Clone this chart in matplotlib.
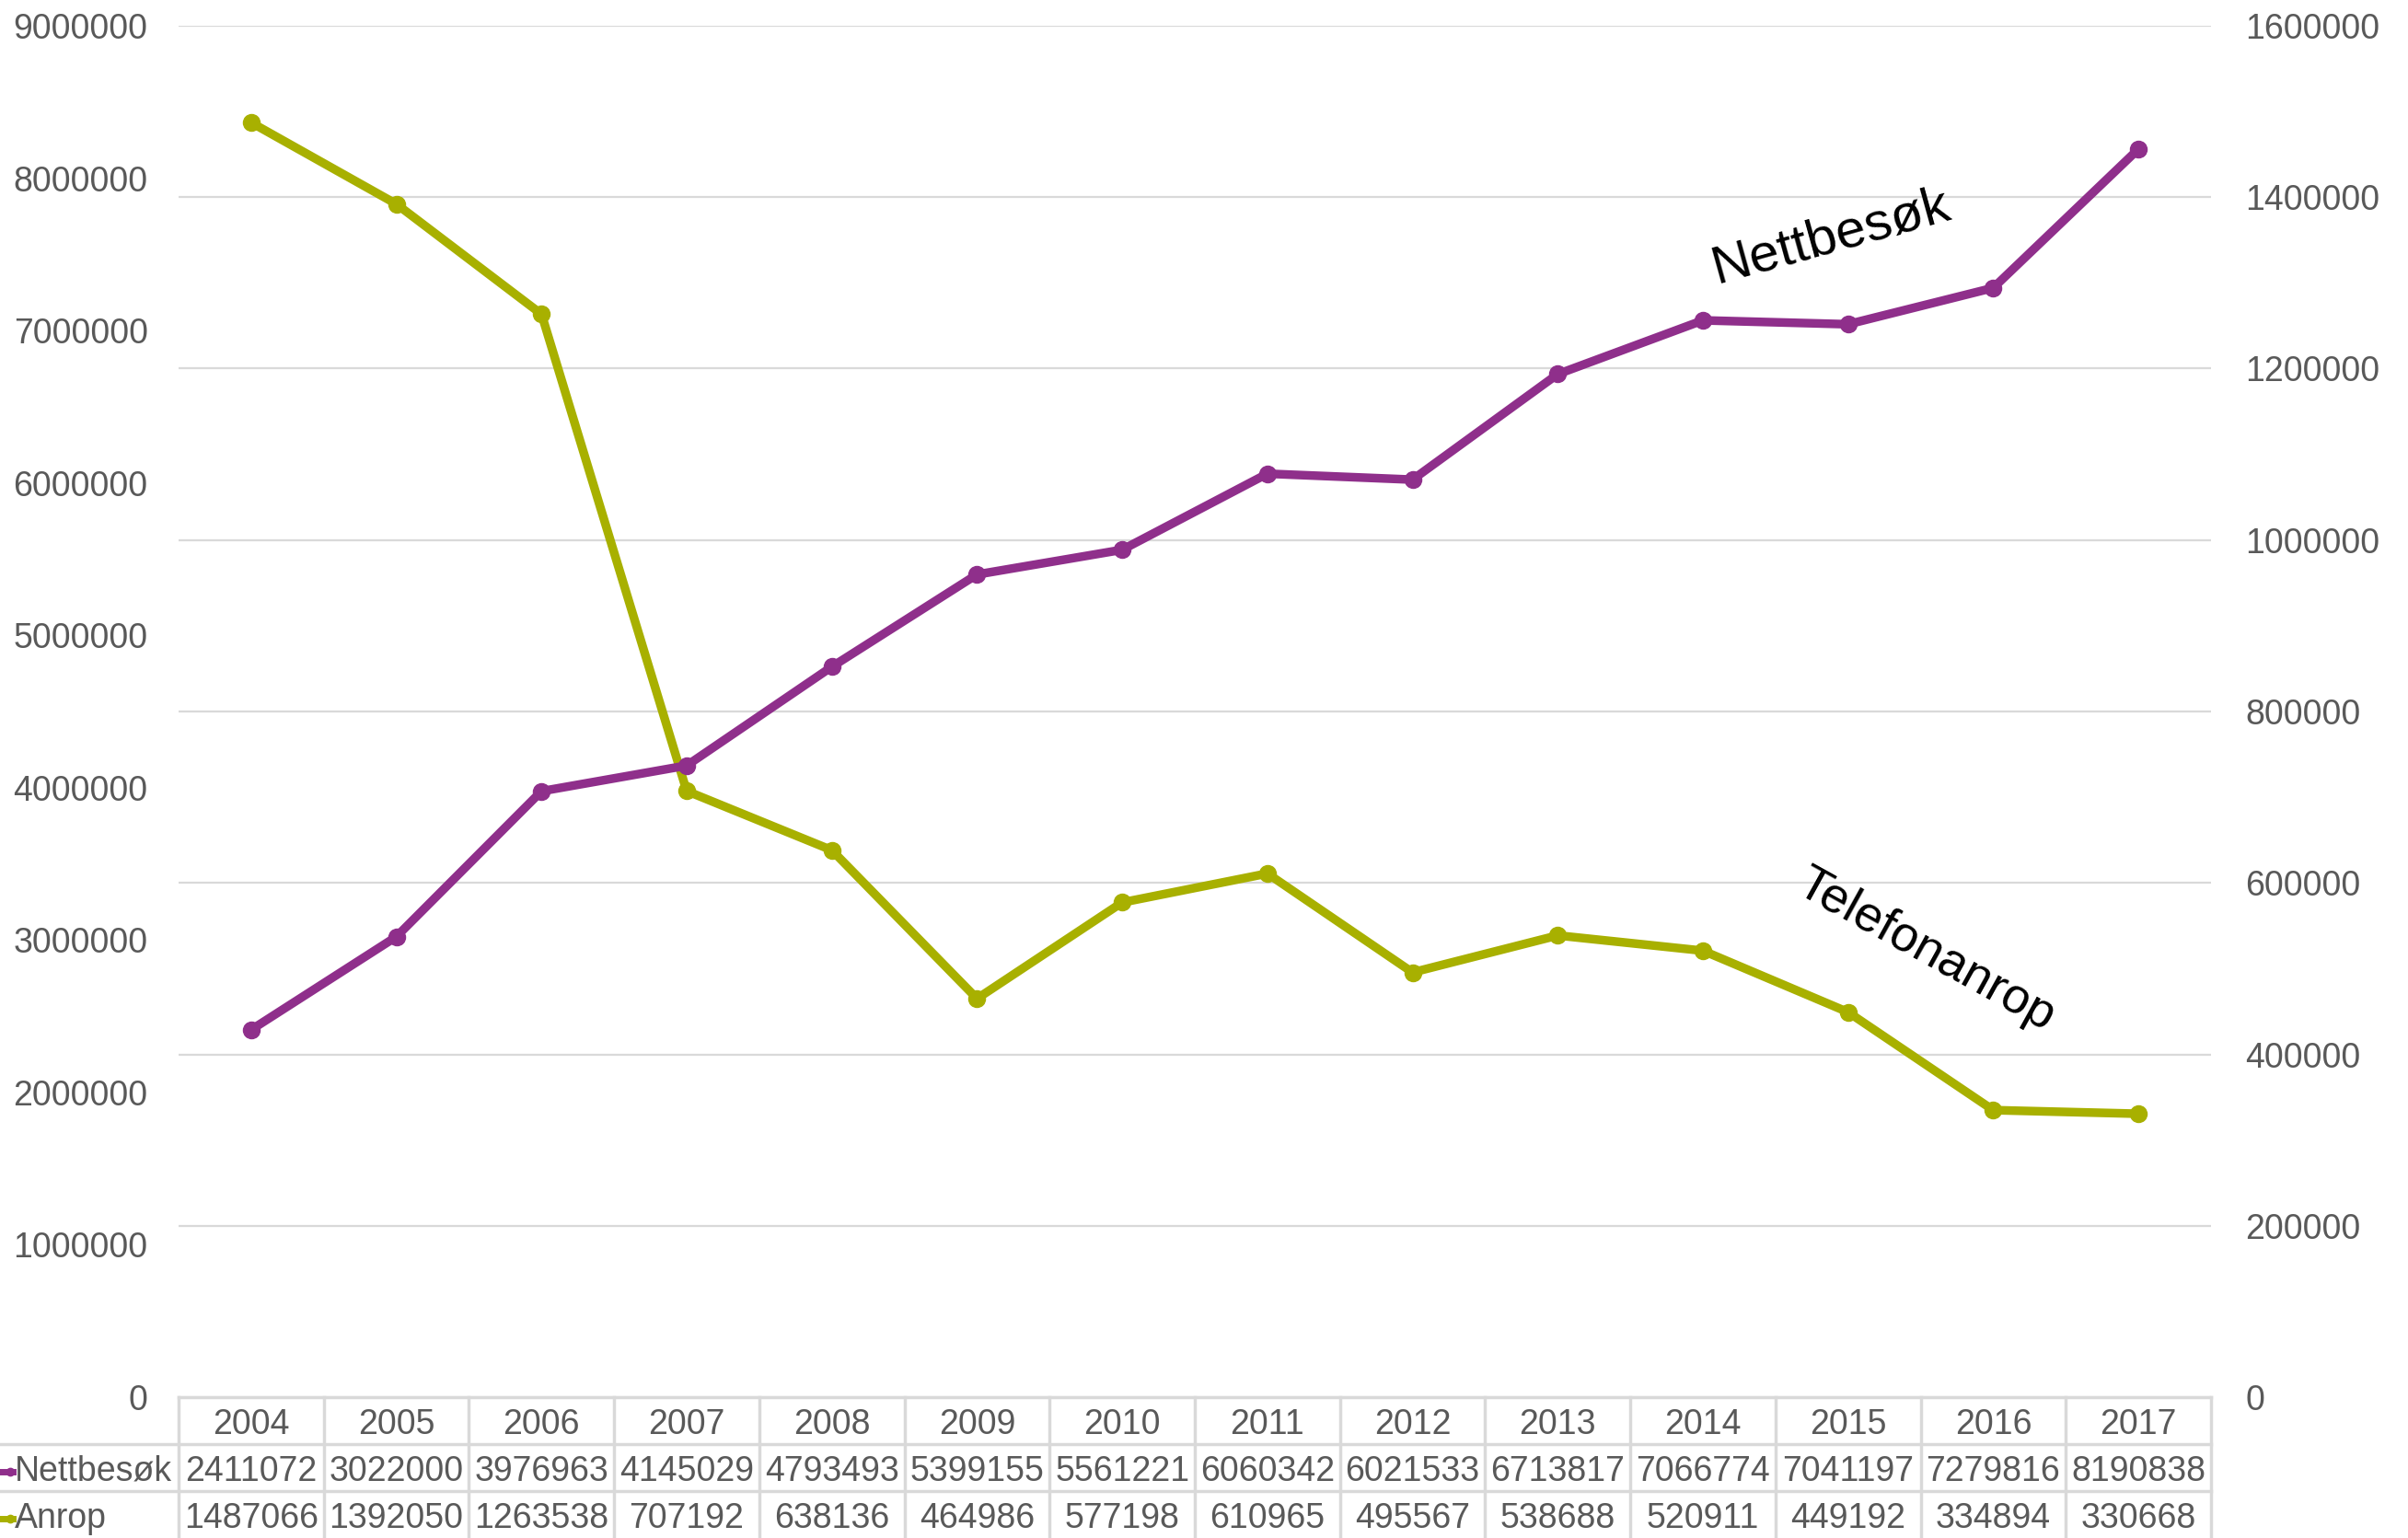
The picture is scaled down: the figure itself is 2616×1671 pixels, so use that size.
import numpy as np
import matplotlib
matplotlib.use("Agg")
import matplotlib.pyplot as plt

plt.rcParams['font.family'] = ['Liberation Sans', 'DejaVu Sans']

years = ['2004', '2005', '2006', '2007', '2008', '2009', '2010',
         '2011', '2012', '2013', '2014', '2015', '2016', '2017']
nettbesok = [2411072, 3022000, 3976963, 4145029, 4793493, 5399155, 5561221,
             6060342, 6021533, 6713817, 7066774, 7041197, 7279816, 8190838]
anrop = [1487066, 1392050, 1263538, 707192, 638136, 464986, 577198,
         610965, 495567, 538688, 520911, 449192, 334894, 330668]

left_ticks = list(range(0, 9000001, 1000000))
right_ticks = list(range(0, 1600001, 200000))

purple = '#8F2F8B'
olive = '#A8B000'
grey_txt = '#595959'
grid_col = '#D9D9D9'

W, H = 2616, 1671
fig = plt.figure(figsize=(W / 100, H / 100), dpi=100)

x0, x1 = 194 / W, 2402 / W
y_bot, y_top = (H - 1518) / H, (H - 28) / H
ax = fig.add_axes([x0, y_bot, x1 - x0, y_top - y_bot])
ax2 = ax.twinx()
ax.set_zorder(ax2.get_zorder() + 1)
ax.patch.set_visible(False)

x = np.arange(len(years))

ax.plot(x, nettbesok, color=purple, lw=6.8, marker='o', ms=13, solid_capstyle='round')
ax2.plot(x, anrop, color=olive, lw=6.8, marker='o', ms=13, solid_capstyle='round')

ax.set_xlim(-0.5, len(years) - 0.5)
ax.set_ylim(0, 9000000)
ax2.set_ylim(0, 1600000)
ax.set_yticks(left_ticks)
ax.set_yticklabels([str(v) for v in left_ticks])
ax2.set_yticks(right_ticks)
ax2.set_yticklabels([str(v) for v in right_ticks])
ax.set_xticks([])

for a in (ax, ax2):
    for s in a.spines.values():
        s.set_visible(False)
    a.tick_params(axis='y', length=0, labelsize=27, labelcolor=grey_txt)
ax.tick_params(axis='y', pad=24)
ax2.tick_params(axis='y', pad=27)
ax2.grid(axis='y', color=grid_col, lw=1.6)
ax2.set_axisbelow(True)

ax.text(10.88, 7610000, 'Nettbesøk', fontsize=42, rotation=15.5,
        ha='center', va='center', color='black')
ax.text(11.54, 2930000, 'Telefonanrop', fontsize=39, rotation=-29,
        ha='center', va='center', color='black')

# data table below the chart
tab = fig.add_axes([x0, 0, x1 - x0, y_bot])
tab.set_xlim(-0.5, len(years) - 0.5)
tab.set_ylim(0, 3)
tab.axis('off')
n = len(years)
tab.plot([-0.5, n - 0.5], [3, 3], color=grid_col, lw=2.5, clip_on=False)
for yy in (2, 1):
    tab.plot([-0.5 - 194 / 157.7, n - 0.5], [yy, yy], color=grid_col, lw=2.5, clip_on=False)
for k in range(n + 1):
    tab.plot([k - 0.5, k - 0.5], [0, 3], color=grid_col, lw=2.5, clip_on=False)
for i, yr in enumerate(years):
    tab.text(i, 2.42, yr, ha='center', va='center', fontsize=27, color=grey_txt)
    tab.text(i, 1.42, str(nettbesok[i]), ha='center', va='center', fontsize=27, color=grey_txt)
    tab.text(i, 0.42, str(anrop[i]), ha='center', va='center', fontsize=27, color=grey_txt)

# row labels with legend keys
for yy, label, col in ((1.42, 'Nettbesøk', purple), (0.42, 'Anrop', olive)):
    fig.add_artist(plt.Line2D([0, 14 / W], [yy / 3 * y_bot, yy / 3 * y_bot],
                              color=col, lw=5, transform=fig.transFigure))
    fig.add_artist(plt.Line2D([11 / W], [yy / 3 * y_bot], marker='o', ms=6,
                              color=col, transform=fig.transFigure))
    fig.text(16 / W, yy / 3 * y_bot, label, ha='left', va='center',
             fontsize=27, color=grey_txt)

fig.savefig('out.png', dpi=100)
